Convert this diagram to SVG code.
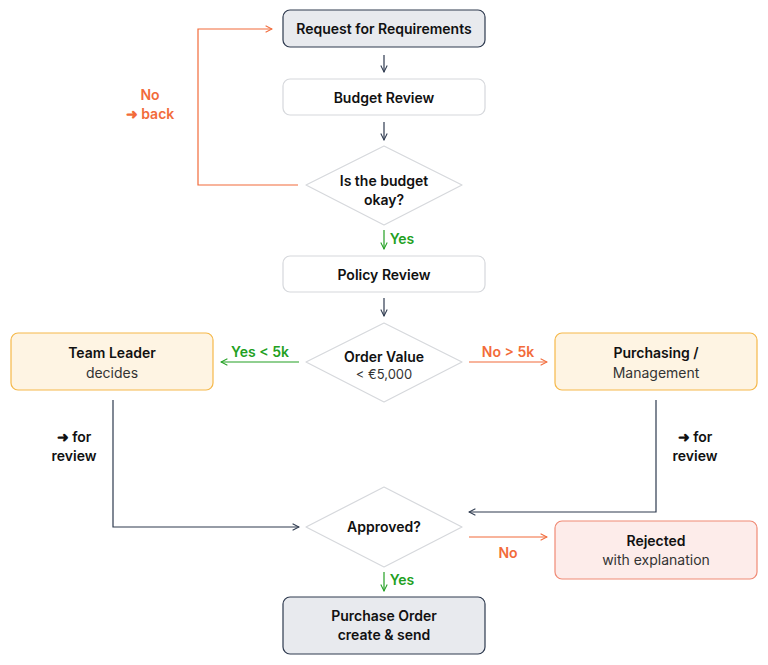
<svg xmlns="http://www.w3.org/2000/svg" width="768" height="665" viewBox="0 0 768 665">
<style>
text{font-family:"Inter","Liberation Sans",sans-serif;text-anchor:middle;font-size:14px;fill:#111}
.b{font-weight:600}
.g{fill:#22a022;font-weight:600}
.o{fill:#f26b3a;font-weight:600}
.sub{fill:#333;font-weight:400}
.dark{fill:#e8eaee;stroke:#2e3a4f;stroke-width:1.2}
.plain{fill:#fff;stroke:#d6d8dc;stroke-width:1.2}
.amber{fill:#fef4e3;stroke:#f5b84a;stroke-width:1.2}
.red{fill:#fdecea;stroke:#f08a75;stroke-width:1.2}
.dia{fill:#fff;stroke:#d6d8dc;stroke-width:1.2;stroke-linejoin:round}
.c{fill:none;stroke:#2e3a4f;stroke-width:1.2}
.cg{fill:none;stroke:#22a022;stroke-width:1.2}
.co{fill:none;stroke:#f26b3a;stroke-width:1.2}
</style>
<defs>
<marker id="ad" viewBox="0 0 10 10" refX="9" refY="5" markerWidth="8" markerHeight="8" orient="auto" markerUnits="userSpaceOnUse"><path d="M1,1 L9,5 L1,9" fill="none" stroke="#2e3a4f" stroke-width="1.3"/></marker>
<marker id="ag" viewBox="0 0 10 10" refX="9" refY="5" markerWidth="8" markerHeight="8" orient="auto" markerUnits="userSpaceOnUse"><path d="M1,1 L9,5 L1,9" fill="none" stroke="#22a022" stroke-width="1.3"/></marker>
<marker id="ao" viewBox="0 0 10 10" refX="9" refY="5" markerWidth="8" markerHeight="8" orient="auto" markerUnits="userSpaceOnUse"><path d="M1,1 L9,5 L1,9" fill="none" stroke="#f26b3a" stroke-width="1.3"/></marker>
</defs>
<g id="connectors">
<line class="c" x1="384" y1="55" x2="384" y2="72" marker-end="url(#ad)"/>
<line class="c" x1="384" y1="122" x2="384" y2="140" marker-end="url(#ad)"/>
<line class="cg" x1="384" y1="230" x2="384" y2="249" marker-end="url(#ag)"/>
<line class="c" x1="384" y1="298" x2="384" y2="316" marker-end="url(#ad)"/>
<line class="cg" x1="384" y1="572" x2="384" y2="591" marker-end="url(#ag)"/>
<polyline class="co" points="298,185 198,185 198,29 272,29" marker-end="url(#ao)"/>
<line class="cg" x1="299" y1="362" x2="221" y2="362" marker-end="url(#ag)"/>
<line class="co" x1="469" y1="362" x2="547" y2="362" marker-end="url(#ao)"/>
<polyline class="c" points="113,400 113,527 299,527" marker-end="url(#ad)"/>
<polyline class="c" points="656,400 656,512 469,512" marker-end="url(#ad)"/>
<line class="co" x1="469" y1="537" x2="547" y2="537" marker-end="url(#ao)"/>
<text class="o" x="150" y="100">No</text>
<text class="o" x="150" y="119">➜ back</text>
<text class="g" x="402" y="244">Yes</text>
<text class="g" x="260" y="357">Yes &lt; 5k</text>
<text class="o" x="508" y="357">No &gt; 5k</text>
<text class="b" x="74" y="442">➜ for</text>
<text class="b" x="74" y="461">review</text>
<text class="b" x="695" y="442">➜ for</text>
<text class="b" x="695" y="461">review</text>
<text class="o" x="508" y="558">No</text>
<text class="g" x="402" y="585">Yes</text>
</g>
<g id="n-request"><rect class="dark" x="283" y="10" width="202" height="37" rx="7"/><text class="b" x="384" y="34">Request for Requirements</text></g>
<g id="n-budget"><rect class="plain" x="283" y="79" width="202" height="36" rx="7"/><text class="b" x="384" y="103">Budget Review</text></g>
<g id="n-budgetok"><path class="dia" d="M384,146 L462,185 L384,225 L306,185 Z"/><text class="b" x="384" y="186">Is the budget</text><text class="b" x="384" y="205">okay?</text></g>
<g id="n-policy"><rect class="plain" x="283" y="256" width="202" height="36" rx="7"/><text class="b" x="384" y="280">Policy Review</text></g>
<g id="n-order"><path class="dia" d="M384,323 L462,362 L384,402 L306,362 Z"/><text class="b" x="384" y="362">Order Value</text><text class="sub" x="384" y="379" style="font-size:13px">&lt; €5,000</text></g>
<g id="n-team"><rect class="amber" x="11" y="333" width="202" height="57" rx="7"/><text class="b" x="112" y="358">Team Leader</text><text class="sub" x="112" y="378">decides</text></g>
<g id="n-purch"><rect class="amber" x="555" y="333" width="202" height="57" rx="7"/><text class="b" x="656" y="358">Purchasing /</text><text class="sub" x="656" y="378">Management</text></g>
<g id="n-approved"><path class="dia" d="M384,487 L462,527 L384,567 L306,527 Z"/><text class="b" x="384" y="532">Approved?</text></g>
<g id="n-rejected"><rect class="red" x="555" y="521" width="202" height="58" rx="7"/><text class="b" x="656" y="546">Rejected</text><text class="sub" x="656" y="565">with explanation</text></g>
<g id="n-po"><rect class="dark" x="283" y="597" width="202" height="57" rx="7"/><text class="b" x="384" y="621">Purchase Order</text><text class="b" x="384" y="640">create &amp; send</text></g>
</svg>
